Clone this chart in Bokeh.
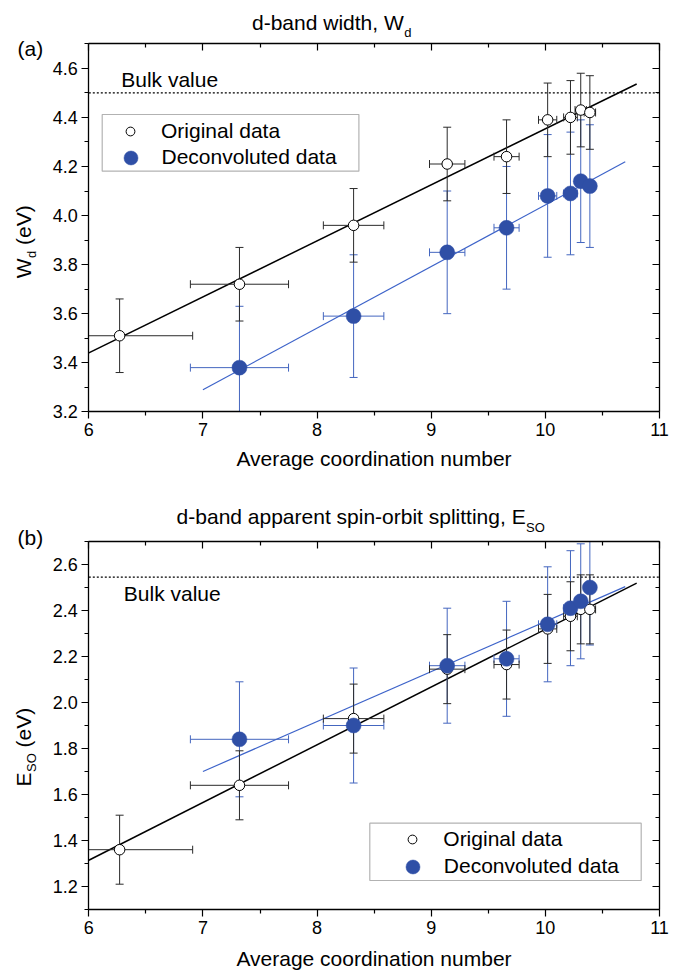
import numpy as np
from bokeh.plotting import figure
from bokeh.models import (Range1d, FixedTicker, LinearAxis, PrintfTickFormatter, Label,
                          BoxAnnotation, Legend, LegendItem)
from bokeh.layouts import column
from bokeh.embed import file_html
from bokeh.resources import INLINE

# ---------------- data ----------------
coord_orig = [6.27, 7.32, 8.32, 9.14, 9.66, 10.02, 10.22, 10.31, 10.39]
coord_orig_err = [0.64, 0.43, 0.265, 0.155, 0.11, 0.08, 0.06, 0.05, 0.05]
coord_dec = [7.32, 8.32, 9.14, 9.66, 10.02, 10.22, 10.31, 10.39]
coord_dec_err = [0.43, 0.265, 0.155, 0.11, 0.08, 0.06, 0.05, 0.05]

wd_orig = [3.51, 3.72, 3.96, 4.21, 4.24, 4.39, 4.40, 4.43, 4.42]
wd_orig_err = [0.15, 0.15, 0.15, 0.15, 0.15, 0.15, 0.15, 0.15, 0.15]
wd_dec = [3.38, 3.59, 3.85, 3.95, 4.08, 4.09, 4.14, 4.12]
wd_dec_err = [0.25, 0.25, 0.25, 0.25, 0.25, 0.25, 0.25, 0.25]

eso_orig = [1.36, 1.64, 1.93, 2.145, 2.165, 2.32, 2.375, 2.405, 2.405]
eso_orig_err = [0.15, 0.15, 0.15, 0.15, 0.15, 0.15, 0.15, 0.15, 0.15]
eso_dec = [1.84, 1.90, 2.16, 2.19, 2.34, 2.41, 2.44, 2.50]
eso_dec_err = [0.25, 0.25, 0.25, 0.25, 0.25, 0.25, 0.25, 0.25]

# linear fits (end points)
wd_fit_orig_x = [6.0, 10.8]
wd_fit_orig_y = [3.44, 4.536]
wd_fit_dec_x = [7.0, 10.7]
wd_fit_dec_y = [3.29, 4.219]
eso_fit_orig_x = [6.0, 10.8]
eso_fit_orig_y = [1.314, 2.519]
eso_fit_dec_x = [7.0, 10.7]
eso_fit_dec_y = [1.70, 2.504]

wd_bulk = 4.5
eso_bulk = 2.545

x_ticks = [6, 7, 8, 9, 10, 11]
x_minor = [6.5, 7.5, 8.5, 9.5, 10.5]
wd_ticks = [3.2, 3.4, 3.6, 3.8, 4.0, 4.2, 4.4, 4.6]
wd_minor = [3.3, 3.5, 3.7, 3.9, 4.1, 4.3, 4.5, 4.7]
eso_ticks = [1.2, 1.4, 1.6, 1.8, 2.0, 2.2, 2.4, 2.6]
eso_minor = [1.1, 1.3, 1.5, 1.7, 1.9, 2.1, 2.3, 2.5, 2.7]

# ---------------- layout / style ----------------
X_LIM = (6.0, 11.0)
WD_LIM = (3.2, 4.7)
ESO_LIM = (1.1, 2.7)
W = 681
H1, H2 = 488, 487
AX_L, AX_R = 88.3, 659.0          # axes box, canvas px
A_TOP, A_BOT = 43.3, 411.3        # panel (a) axes box, canvas px
B_TOP, B_BOT = 53.0, 421.0        # panel (b) axes box, canvas px

FONT = "Liberation Sans"
ERR_BLACK = "#2a2a2a"
BLUE_FILL = "#2f4fa6"
BLUE_ERR = "#4466bf"
BLUE_LINE = "#3d63c9"
TXT = 21
SUB = 13
TICK_TXT = "18px"
BASE_SHIFT = 0.38   # text box bottom below the alphabetic baseline, in em


def canvas_range(lim, p0, p1, total, flip):
    lo, hi = lim
    scale = (p1 - p0) / (hi - lo)
    if flip:   # vertical: p0 = top px, p1 = bottom px
        return Range1d(lo - (total - p1) / scale, hi + p0 / scale)
    return Range1d(lo - p0 / scale, hi + (total - p1) / scale)


def make_fig(height, top_px, bot_px, ylim):
    p = figure(width=W, height=height,
               x_range=canvas_range(X_LIM, AX_L, AX_R, W, False),
               y_range=canvas_range(ylim, top_px, bot_px, height, True),
               output_backend="svg", toolbar_location=None,
               x_axis_type=None, y_axis_type=None,
               min_border=0, min_border_left=0, min_border_right=0,
               min_border_top=0, min_border_bottom=0)
    p.xgrid.visible = False
    p.ygrid.visible = False
    p.outline_line_color = None
    p.background_fill_color = "white"
    p.border_fill_color = "white"
    return p


def axes(p, ylim, yt, ym, label_standoff):
    specs = [
        ("below", x_ticks, x_minor, ylim[0], X_LIM, True),
        ("left", yt, ym, X_LIM[0], ylim, True),
        ("above", x_ticks, x_minor, ylim[1], X_LIM, False),
        ("right", yt, ym, X_LIM[1], ylim, False),
    ]
    for place, t, m, loc, bnds, outer in specs:
        ax = LinearAxis(ticker=FixedTicker(ticks=t, minor_ticks=m), fixed_location=loc,
                        bounds=bnds)
        ax.axis_line_width = 1.3
        ax.axis_line_color = "black"
        ax.major_tick_line_width = 1.2
        ax.minor_tick_line_width = 1.2
        if outer:
            ax.major_tick_out, ax.major_tick_in = 7, 0
            ax.minor_tick_out, ax.minor_tick_in = 4, 0
            ax.major_label_text_font = FONT
            ax.major_label_text_font_size = TICK_TXT
            ax.major_label_text_color = "black"
            ax.major_label_standoff = 4
            ax.formatter = PrintfTickFormatter(format="%d" if place == "below" else "%.1f")
        else:
            ax.major_tick_out, ax.major_tick_in = 0, 7
            ax.minor_tick_out, ax.minor_tick_in = 0, 4
            ax.major_label_text_color = None
        if place == "below":
            ax.axis_label = "Average coordination number"
            ax.axis_label_text_font = FONT
            ax.axis_label_text_font_size = f"{TXT}px"
            ax.axis_label_text_font_style = "normal"
            ax.axis_label_text_color = "black"
            ax.axis_label_standoff = label_standoff
        p.add_layout(ax, place)


def error_bars(p, x, xe, y, ye, color, ylim):
    x = np.asarray(x, float)
    xe = np.asarray(xe, float)
    y = np.asarray(y, float)
    ye = np.asarray(ye, float)
    lo, hi = y - ye, y + ye
    le, ri = x - xe, x + xe
    p.segment(x0=x, y0=np.maximum(lo, ylim[0]), x1=x, y1=np.minimum(hi, ylim[1]),
              line_color=color, line_width=1)
    p.segment(x0=np.maximum(le, X_LIM[0]), y0=y, x1=np.minimum(ri, X_LIM[1]), y1=y,
              line_color=color, line_width=1)
    ok_lo, ok_hi = lo >= ylim[0], hi <= ylim[1]
    p.scatter(x=np.concatenate([x[ok_lo], x[ok_hi]]),
              y=np.concatenate([lo[ok_lo], hi[ok_hi]]), marker="dash",
              size=8, line_color=color, line_width=1)
    ok_le, ok_ri = le >= X_LIM[0], ri <= X_LIM[1]
    p.scatter(x=np.concatenate([le[ok_le], ri[ok_ri]]),
              y=np.concatenate([y[ok_le], y[ok_ri]]), marker="dash",
              angle=np.pi / 2, size=8, line_color=color, line_width=1)


def draw_data(p, ylim, bulk, y_o, ye_o, y_d, ye_d, fxo, fyo, fxd, fyd):
    p.line([X_LIM[0], X_LIM[1]], [bulk, bulk], line_color="black", line_width=1.2,
           line_dash="2 2")
    p.line(fxo, fyo, line_color="black", line_width=1.5)
    p.line(fxd, fyd, line_color=BLUE_LINE, line_width=1.2)
    error_bars(p, coord_dec, coord_dec_err, y_d, ye_d, BLUE_ERR, ylim)
    error_bars(p, coord_orig, coord_orig_err, y_o, ye_o, ERR_BLACK, ylim)
    r_o = p.scatter(coord_orig, y_o, marker="circle", size=10.5, fill_color="white",
                    line_color="black", line_width=1)
    r_d = p.scatter(coord_dec, y_d, marker="circle", size=15, fill_color=BLUE_FILL,
                    line_color=BLUE_FILL, line_width=0.5)
    return r_o, r_d


def add_legend(p, r_o, r_d, box, gx, gy1, gy2):
    left, right, top, bottom = box
    p.add_layout(BoxAnnotation(left=left, right=right, top=top, bottom=bottom,
                               left_units="screen", right_units="screen",
                               top_units="screen", bottom_units="screen",
                               fill_color="white", fill_alpha=1.0,
                               line_color="black", line_width=1.2))
    common = dict(padding=0, margin=0, spacing=0, border_line_color=None,
                  background_fill_alpha=0, label_text_font=FONT,
                  label_text_font_size=f"{TXT}px", label_text_color="black")
    la = Legend(items=[LegendItem(label="Original data", renderers=[r_o])],
                location=(gx - 11, gy1 - 13), glyph_width=22, glyph_height=26,
                label_height=26, label_standoff=20, **common)
    lb = Legend(items=[LegendItem(label="Deconvoluted data", renderers=[r_d])],
                location=(gx - 17.5, gy2 - 17.5), glyph_width=35, glyph_height=35,
                label_height=26, label_standoff=14, **common)
    p.add_layout(la)
    p.add_layout(lb)


def lab(p, x, y, text, size=TXT, rotated=False):
    """x, y: start of the baseline, canvas px from the left / bottom."""
    shift = BASE_SHIFT * size
    if rotated:
        x, y, angle = x - shift, y, np.pi / 2
    else:
        x, y, angle = x, y + shift, 0.0
    p.add_layout(Label(x=x, y=y, x_units="screen", y_units="screen", text=text,
                       text_font=FONT, text_font_size=f"{size}px", text_color="black",
                       text_align="left", text_baseline="alphabetic", angle=angle))


# ---------------- panel (a) ----------------
p1 = make_fig(H1, A_TOP, A_BOT, WD_LIM)
r_o1, r_d1 = draw_data(p1, WD_LIM, wd_bulk, wd_orig, wd_orig_err, wd_dec, wd_dec_err,
                       wd_fit_orig_x, wd_fit_orig_y, wd_fit_dec_x, wd_fit_dec_y)
axes(p1, WD_LIM, wd_ticks, wd_minor, 8)
add_legend(p1, r_o1, r_d1, (101.7, 358.4, 374, 317.3), 130, 357.3, 330.7)
lab(p1, 120.7, 401.3, "Bulk value")
lab(p1, 251.5, 458, "d-band width, W")
lab(p1, 403.7, 450.7, "d", size=SUB)
lab(p1, 17, 432.4, "(a)")
lab(p1, 31, 210.2, "W", rotated=True)
lab(p1, 36, 230.5, "d", size=SUB, rotated=True)
lab(p1, 31, 243.5, "(eV)", rotated=True)

# ---------------- panel (b) ----------------
p2 = make_fig(H2, B_TOP, B_BOT, ESO_LIM)
r_o2, r_d2 = draw_data(p2, ESO_LIM, eso_bulk, eso_orig, eso_orig_err, eso_dec, eso_dec_err,
                       eso_fit_orig_x, eso_fit_orig_y, eso_fit_dec_x, eso_fit_dec_y)
axes(p2, ESO_LIM, eso_ticks, eso_minor, 10)
add_legend(p2, r_o2, r_d2, (369.3, 640.7, 152.3, 95), 412.3, 136, 109)
lab(p2, 123.3, 374.3, "Bulk value")
lab(p2, 176.1, 451, "d-band apparent spin-orbit splitting, E")
lab(p2, 525.6, 442.7, "SO", size=SUB)
lab(p2, 17, 430, "(b)")
lab(p2, 31, 189, "E", rotated=True)
lab(p2, 36, 203.5, "SO", size=SUB, rotated=True)
lab(p2, 31, 228.1, "(eV)", rotated=True)

layout = column(p1, p2)
open("out.html", "w").write(file_html(layout, INLINE))
